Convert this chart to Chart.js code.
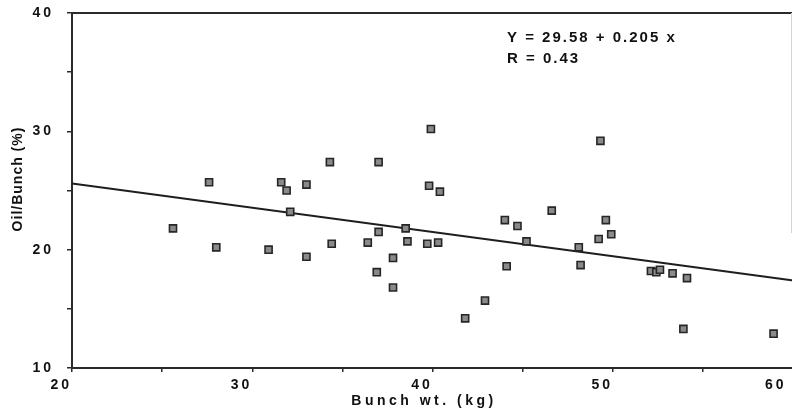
<!DOCTYPE html>
<html>
<head>
<meta charset="utf-8">
<title>Oil/Bunch vs Bunch weight</title>
<script src="https://cdn.jsdelivr.net/npm/chart.js@4.4.1/dist/chart.umd.min.js"></script>
<style>
    html, body { margin: 0; padding: 0; background: #fff; overflow: hidden; }
    #wrap { position: absolute; left: 0; top: 0; width: 800px; height: 414px; }
</style>
</head>
<body>
<div id="wrap"><canvas id="chart" width="800" height="414"></canvas></div>
<script>
// Bunch weight (kg) and oil per bunch (%) for each palm
const bunchWeight = [
    25.6, 28.0, 27.6, 30.9, 31.6, 31.9, 32.1, 33.0, 33.0, 34.3, 34.4,
    37.0, 36.4, 37.0, 36.9, 37.8, 37.8, 38.5, 38.6, 39.7, 39.9, 39.8,
    40.4, 40.3, 41.8, 42.9, 44.0, 44.1, 44.7, 45.2, 46.6, 48.1, 48.2,
    49.2, 49.3, 49.6, 49.9, 52.1, 52.4, 52.6, 53.3, 54.1, 53.9, 58.9
];
const oilPerBunch = [
    21.8, 20.2, 25.7, 20.0, 25.7, 25.0, 23.2, 25.5, 19.4, 27.4, 20.5,
    27.4, 20.6, 21.5, 18.1, 19.3, 16.8, 21.8, 20.7, 20.5, 30.2, 25.4,
    24.9, 20.6, 14.2, 15.7, 22.5, 18.6, 22.0, 20.7, 23.3, 20.2, 18.7,
    20.9, 29.2, 22.5, 21.3, 18.2, 18.1, 18.3, 18.0, 17.6, 13.3, 12.9
];

// Fitted line, read where it meets the two ends of the x axis
const fitX = [20, 60];
const fitY = [25.6, 17.4];

const xRange = [20, 60];
const yRange = [10, 40];
const labelStep = 10;
const tickStep = 5;

const equationLines = ['Y = 29.58 + 0.205 x', 'R = 0.43'];
const xTitle = 'Bunch wt. (kg)';
const yTitle = 'Oil/Bunch (%)';

const FONT = "'Liberation Sans', Arial, sans-serif";
const INK = '#111';
const AXIS = '#2b2b2b';

// Draws the frame top, the axis titles and the regression note
const paperText = {
    id: 'paperText',
    beforeDraw(chart) {
        // tick labels in the original are spaced out
        chart.ctx.letterSpacing = '3px';
    },
    afterDraw(chart) {
        const ctx = chart.ctx;
        const area = chart.chartArea;
        ctx.save();

        ctx.strokeStyle = AXIS;
        ctx.lineWidth = 2;
        ctx.beginPath();
        ctx.moveTo(area.left, area.top);
        ctx.lineTo(area.right, area.top);
        ctx.stroke();

        // faint right edge of the scanned frame
        ctx.strokeStyle = '#d4d4d4';
        ctx.lineWidth = 1;
        ctx.beginPath();
        ctx.moveTo(791.5, area.top);
        ctx.lineTo(791.5, area.top + 220);
        ctx.stroke();

        ctx.fillStyle = INK;
        ctx.textBaseline = 'middle';

        ctx.font = 'bold 15px ' + FONT;
        ctx.letterSpacing = '2px';
        ctx.textAlign = 'left';
        equationLines.forEach((line, i) => {
            ctx.fillText(line, area.left + 435, area.top + 25 + i * 21);
        });

        ctx.font = 'bold 14px ' + FONT;
        ctx.letterSpacing = '3.5px';
        ctx.textAlign = 'center';
        ctx.fillText(xTitle, 424, area.bottom + 33);

        ctx.letterSpacing = '1px';
        ctx.translate(18, 179);
        ctx.rotate(-Math.PI / 2);
        ctx.fillText(yTitle, 0, 0);

        ctx.restore();
        ctx.letterSpacing = '0px';
    }
};

const ctx = document.getElementById('chart').getContext('2d');

new Chart(ctx, {
    type: 'scatter',
    data: {
        datasets: [
            {
                label: 'Palms',
                data: bunchWeight.map((x, i) => ({ x: x, y: oilPerBunch[i] })),
                pointStyle: 'rect',
                pointRadius: 5,
                pointHoverRadius: 5,
                backgroundColor: '#8a8a8a',
                borderColor: '#262626',
                borderWidth: 1.6
            },
            {
                label: 'Fit',
                type: 'line',
                data: fitX.map((x, i) => ({ x: x, y: fitY[i] })),
                showLine: true,
                pointRadius: 0,
                borderColor: '#1e1e1e',
                borderWidth: 2,
                fill: false
            }
        ]
    },
    options: {
        responsive: false,
        animation: false,
        devicePixelRatio: 1,
        layout: { padding: { top: 13, right: 5, left: 0, bottom: 0 } },
        plugins: {
            legend: { display: false },
            tooltip: { enabled: false }
        },
        scales: {
            x: {
                type: 'linear',
                min: xRange[0],
                max: xRange[1],
                afterFit: scale => {
                    scale.height = 46;
                    scale.paddingLeft = 0;
                    scale.paddingRight = 0;
                },
                grid: { drawOnChartArea: false, drawTicks: true, tickLength: 4, color: AXIS, lineWidth: 1.5 },
                border: { display: true, color: AXIS, width: 2 },
                ticks: {
                    stepSize: tickStep,
                    align: 'end',
                    padding: 5,
                    color: INK,
                    font: { family: FONT, size: 14, weight: 'bold' },
                    // the last label sits a little inside the frame in the original
                    callback: v => v % labelStep === 0 ? (v === xRange[1] ? v + '\u00a0' : String(v)) : ''
                }
            },
            y: {
                type: 'linear',
                min: yRange[0],
                max: yRange[1],
                afterFit: scale => {
                    scale.width = 72;
                    scale.paddingTop = 0;
                    scale.paddingBottom = 0;
                },
                grid: { drawOnChartArea: false, drawTicks: true, tickLength: 5, color: AXIS, lineWidth: 1.5 },
                border: { display: true, color: AXIS, width: 2 },
                ticks: {
                    stepSize: tickStep,
                    padding: 13,
                    color: INK,
                    font: { family: FONT, size: 14, weight: 'bold' },
                    callback: v => v % labelStep === 0 ? String(v) : ''
                }
            }
        }
    },
    plugins: [paperText]
});
</script>
</body>
</html>
